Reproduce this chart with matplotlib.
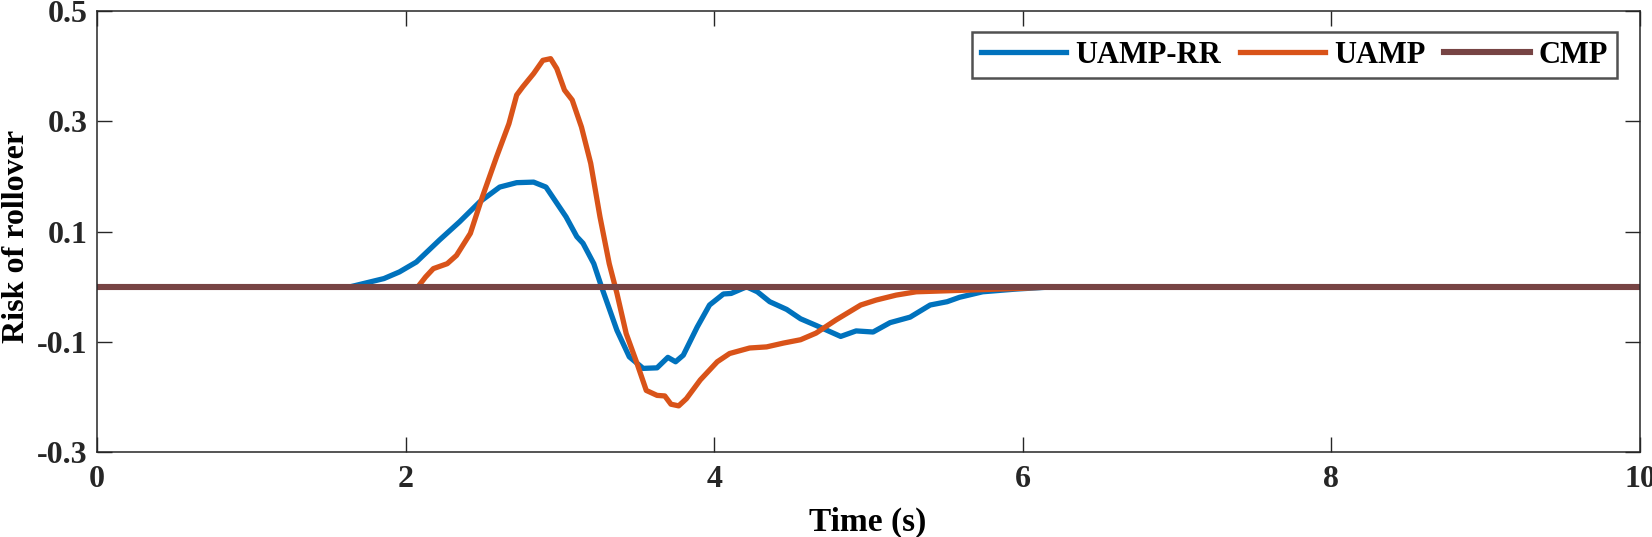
import matplotlib
matplotlib.use('Agg')
import matplotlib.pyplot as plt

# values
t_rr = [0.0, 1.64, 1.86, 1.96, 2.07, 2.22, 2.35, 2.48, 2.61, 2.72, 2.83, 2.91,
        3.04, 3.11, 3.15, 3.22, 3.27, 3.37, 3.45, 3.54, 3.63, 3.70, 3.75, 3.80,
        3.89, 3.97, 4.06, 4.11, 4.21, 4.28, 4.36, 4.47, 4.56, 4.66, 4.82, 4.92,
        5.03, 5.14, 5.27, 5.40, 5.51, 5.59, 5.74, 5.96, 6.20, 10.0]
rr = [0.0, 0.0, 0.015, 0.027, 0.045, 0.085, 0.118, 0.154, 0.181, 0.189, 0.190, 0.181,
      0.127, 0.091, 0.079, 0.042, 0.0, -0.079, -0.127, -0.148, -0.147, -0.128, -0.136, -0.124,
      -0.073, -0.033, -0.013, -0.012, 0.0, -0.009, -0.027, -0.041, -0.058, -0.070, -0.090, -0.080,
      -0.082, -0.065, -0.055, -0.033, -0.027, -0.019, -0.009, -0.004, 0.0, 0.0]

t_uamp = [0.0, 2.08, 2.13, 2.18, 2.27, 2.33, 2.42, 2.49, 2.59, 2.67, 2.72, 2.76,
          2.83, 2.89, 2.94, 2.98, 3.03, 3.08, 3.14, 3.20, 3.26, 3.32, 3.37, 3.43,
          3.50, 3.56, 3.63, 3.68, 3.72, 3.77, 3.82, 3.91, 4.02, 4.10, 4.23, 4.34,
          4.45, 4.56, 4.66, 4.79, 4.95, 5.05, 5.18, 5.31, 5.64, 5.96, 6.20, 10.0]
uamp = [0.0, 0.0, 0.018, 0.033, 0.042, 0.057, 0.097, 0.157, 0.236, 0.296, 0.348, 0.363,
        0.387, 0.411, 0.414, 0.396, 0.357, 0.339, 0.290, 0.224, 0.127, 0.042, -0.012, -0.085,
        -0.139, -0.188, -0.197, -0.198, -0.213, -0.216, -0.203, -0.169, -0.136, -0.121, -0.111, -0.109,
        -0.102, -0.096, -0.084, -0.060, -0.033, -0.024, -0.015, -0.009, -0.006, -0.003, 0.0, 0.0]

t_cmp = [0.0, 10.0]
cmp_ = [0.0, 0.0]

xticks = [0, 2, 4, 6, 8, 10]
yticks = [-0.3, -0.1, 0.1, 0.3, 0.5]

plt.rcParams['font.family'] = ['Liberation Serif', 'DejaVu Serif']
plt.rcParams['font.weight'] = 'bold'

fig = plt.figure(figsize=(16.52, 5.37), dpi=100)
ax = fig.add_axes([0.0587, 0.158, 0.9340, 0.821])

ax.plot(t_rr, rr, color='#0072BD', lw=3.8, label='UAMP-RR')
ax.plot(t_uamp, uamp, color='#D95319', lw=3.8, label='UAMP')
ax.plot(t_cmp, cmp_, color='#774444', lw=4.4, label='CMP')

ax.set_xlim(0, 10)
ax.set_ylim(-0.3, 0.5)
ax.set_xticks(xticks)
ax.set_yticks(yticks)
ax.set_xticklabels([str(v) for v in xticks])
ax.set_yticklabels([f'{v:.1f}' for v in yticks])
ax.tick_params(direction='in', length=11, width=1, top=True, right=True,
               labelsize=23, colors='#262626')
ax.tick_params(axis='x', pad=9)
ax.tick_params(axis='y', pad=7)
for lab in ax.get_xticklabels() + ax.get_yticklabels():
    lab.set_fontweight('bold')
for s in ax.spines.values():
    s.set_linewidth(1.1)
    s.set_color('#262626')

ax.set_xlabel('Time (s)', fontsize=24, fontweight='bold')
ax.set_ylabel('Risk of rollover', fontsize=23, fontweight='bold')
ax.xaxis.set_label_coords(0.4997, -0.125)
ax.yaxis.set_label_coords(-0.043, 0.49)

leg = ax.legend(loc='upper right', ncol=3, fontsize=22, frameon=True, fancybox=False,
                handlelength=2.8, columnspacing=0.6, handletextpad=0.3,
                borderpad=0.28, borderaxespad=0, bbox_to_anchor=(0.985, 0.953))
leg.get_frame().set_edgecolor('#262626')
leg.get_frame().set_linewidth(1.8)
for txt in leg.get_texts():
    txt.set_fontweight('bold')

fig.savefig('out.png', dpi=100)
